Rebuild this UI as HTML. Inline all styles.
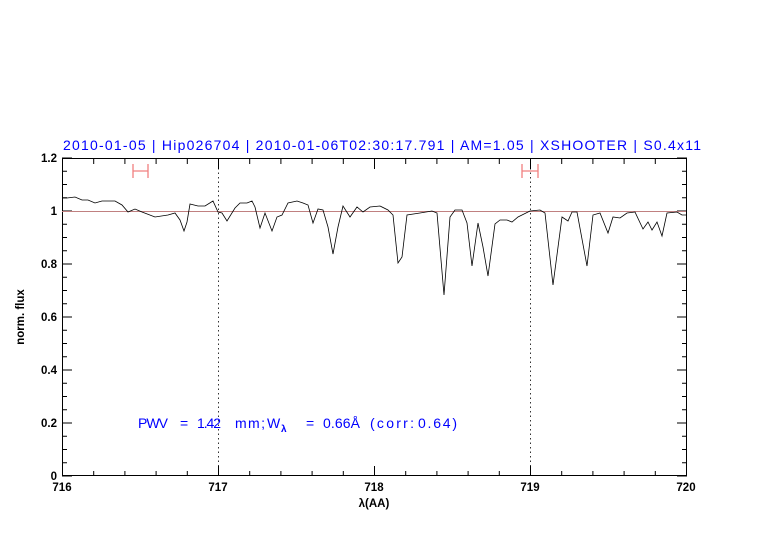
<!DOCTYPE html>
<html><head><style>
body{margin:0;background:#fff;}
svg text{font-family:"Liberation Sans",sans-serif;}
</style></head><body>
<svg width="782" height="542" viewBox="0 0 782 542" xmlns="http://www.w3.org/2000/svg">
<rect width="782" height="542" fill="#fff"/>
<text x="63" y="150" fill="#0000ff" font-size="14" textLength="638" lengthAdjust="spacing">2010-01-05  |  Hip026704  |  2010-01-06T02:30:17.791  |  AM=1.05  |  XSHOOTER  |  S0.4x11</text>
<g stroke="#000" stroke-width="1" fill="none">
<rect x="62.5" y="158.5" width="624" height="317"/>
<path d="M62.5 476v-10M218.5 476v-10M374.5 476v-10M530.5 476v-10M686.5 476v-10 M93.7 476v-5M124.9 476v-5M156.1 476v-5M187.3 476v-5M249.7 476v-5M280.9 476v-5M312.1 476v-5M343.3 476v-5M405.7 476v-5M436.9 476v-5M468.1 476v-5M499.3 476v-5M561.7 476v-5M592.9 476v-5M624.1 476v-5M655.3 476v-5"/>
<path d="M62.5 159v10M218.5 159v10M374.5 159v10M530.5 159v10M686.5 159v10 M93.7 159v5M124.9 159v5M156.1 159v5M187.3 159v5M249.7 159v5M280.9 159v5M312.1 159v5M343.3 159v5M405.7 159v5M436.9 159v5M468.1 159v5M499.3 159v5M561.7 159v5M592.9 159v5M624.1 159v5M655.3 159v5"/>
<path d="M62 476h10M62 423h10M62 370h10M62 317h10M62 264h10M62 211h10M62 158h10 M62 462.75h5M62 449.5h5M62 436.25h5M62 409.75h5M62 396.5h5M62 383.25h5M62 356.75h5M62 343.5h5M62 330.25h5M62 303.75h5M62 290.5h5M62 277.25h5M62 250.75h5M62 237.5h5M62 224.25h5M62 197.75h5M62 184.5h5M62 171.25h5"/>
<path d="M687 476h-10M687 423h-10M687 370h-10M687 317h-10M687 264h-10M687 211h-10M687 158h-10 M687 462.75h-5M687 449.5h-5M687 436.25h-5M687 409.75h-5M687 396.5h-5M687 383.25h-5M687 356.75h-5M687 343.5h-5M687 330.25h-5M687 303.75h-5M687 290.5h-5M687 277.25h-5M687 250.75h-5M687 237.5h-5M687 224.25h-5M687 197.75h-5M687 184.5h-5M687 171.25h-5"/>
</g>
<path d="M218.5 159V476M530.5 159V476" stroke="#000" stroke-width="0.8" stroke-dasharray="1.5,3"/>
<line x1="62" y1="211.5" x2="686" y2="211.5" stroke="#c08080" stroke-width="1"/>
<g stroke="#f08080" stroke-width="1.3" fill="none">
<path d="M133 164v14M148 164v14M133 171h15"/>
<path d="M522 164v14M538 164v14M522 171h16"/>
</g>
<polyline fill="none" stroke="#000" stroke-width="0.8" points="62,198 67,198 75,197 82,200 88,200 95,203 102,201 115,201 122,205 128,212 135,209 142,212 155,217 168,215 175,213 180,220 184,231 187,222 190,204 198,206 205,206 213,201 218,212 222,213 227,221 235,208 240,203 247,203 252,201 255,207 260,228 265,213 272,231 277,217 282,215 288,203 297,201 303,203 308,205 313,223 318,209 323,210 328,227 333,254 338,227 343,206 350,217 357,207 363,212 370,207 380,206 388,210 393,215 398,263 402,257 407,215 420,213 432,211 437,213 444,295 450,217 455,210 462,210 467,223 472,266 478,223 483,247 488,276 495,224 500,220 507,220 512,222 518,217 530,211 540,210 545,213 553,285 562,217 568,221 572,212 577,212 587,266 593,215 600,213 608,233 613,217 620,218 627,213 635,212 643,229 648,222 652,230 657,222 662,236 667,213 677,212 682,215 686,215"/>
<g font-size="11.5" fill="#000" text-anchor="middle" font-weight="bold">
<text x="62" y="491">716</text><text x="218" y="491">717</text><text x="374" y="491">718</text><text x="530" y="491">719</text><text x="686" y="491">720</text>
</g>
<g font-size="11.5" fill="#000" text-anchor="end" font-weight="bold">
<text x="57" y="480">0</text><text x="57" y="427">0.2</text><text x="57" y="374">0.4</text><text x="57" y="321">0.6</text><text x="57" y="268">0.8</text><text x="57" y="215">1</text><text x="57" y="162">1.2</text>
</g>
<text x="374" y="507" font-size="11.5" text-anchor="middle" font-weight="bold">λ(AA)</text>
<text x="24" y="317" font-size="11.5" text-anchor="middle" font-weight="bold" transform="rotate(-90 24 317)">norm. flux</text>
<g font-size="14" fill="#0000ff">
<text x="138" y="428" textLength="30" lengthAdjust="spacing">PWV</text>
<text x="180" y="428">=</text>
<text x="197" y="428" textLength="24" lengthAdjust="spacing">1.42</text>
<text x="235" y="428" textLength="30" lengthAdjust="spacing">mm;</text>
<text x="267" y="428">W</text>
<text x="281" y="432" font-size="10" font-weight="bold">λ</text>
<text x="306" y="428">=</text>
<text x="323" y="428" textLength="37" lengthAdjust="spacing">0.66Å</text>
<text x="370" y="428" textLength="44" lengthAdjust="spacing">(corr:</text>
<text x="418" y="428" textLength="39" lengthAdjust="spacing">0.64)</text>
</g>
</svg>
</body></html>
